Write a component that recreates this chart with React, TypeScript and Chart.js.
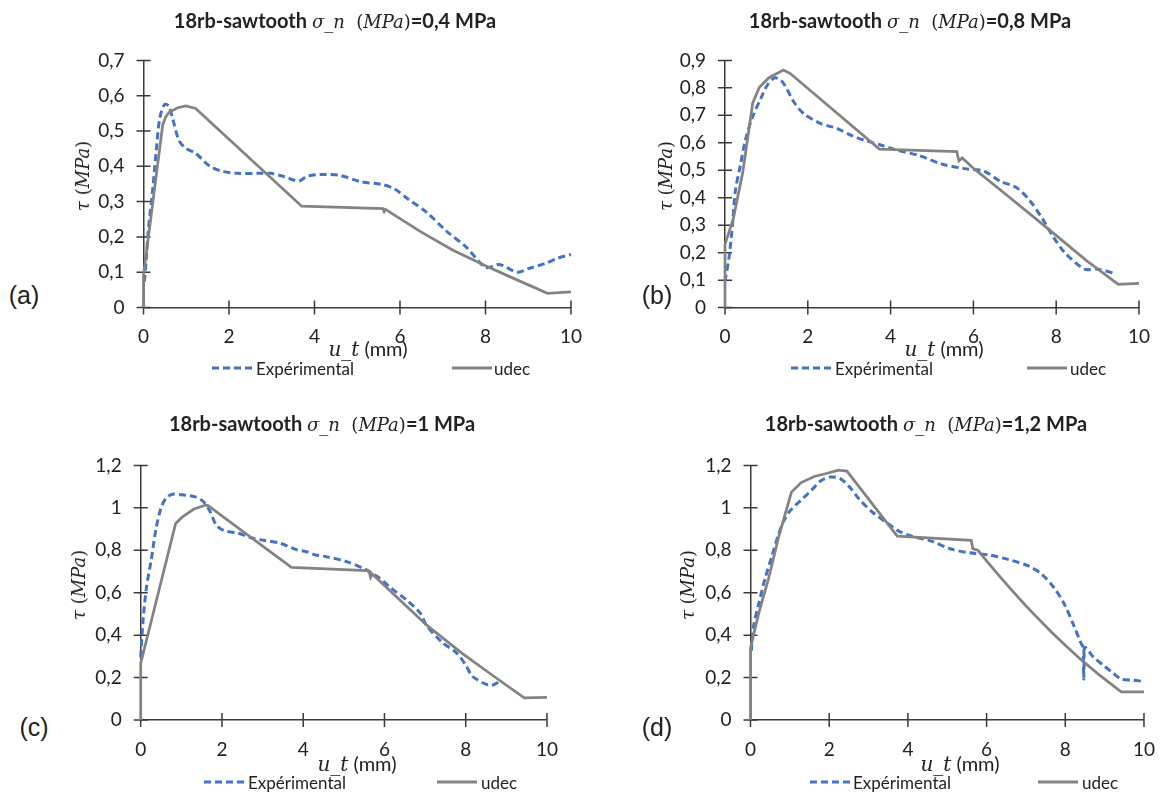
import React, { useEffect, useRef } from "react";
import { Chart, registerables } from "chart.js";
Chart.register(...registerables);

// ---------------- data ----------------
const SERIES_NAMES = ["Expérimental", "udec"];
const PANEL_LETTERS = ["(a)", "(b)", "(c)", "(d)"];
const SIGMA_VALUES = ["0,4", "0,8", "1", "1,2"];
const X_TICKS = [0, 2, 4, 6, 8, 10];
const Y_TICKS_A = [0, 0.1, 0.2, 0.3, 0.4, 0.5, 0.6, 0.7];
const Y_TICKS_B = [0, 0.1, 0.2, 0.3, 0.4, 0.5, 0.6, 0.7, 0.8, 0.9];
const Y_TICKS_CD = [0, 0.2, 0.4, 0.6, 0.8, 1, 1.2];

const A_EXP_X = [0.02, 0.06, 0.11, 0.22, 0.3, 0.38, 0.49, 0.59, 0.68, 0.83, 0.99, 1.22, 1.53, 1.83, 2.21, 2.67, 2.98, 3.28, 3.63, 3.81, 4.05, 4.27, 4.57, 5.1, 5.56, 5.87, 6.17, 6.63, 7.09, 7.55, 8.01, 8.32, 8.75, 9.0, 9.4, 9.7, 10.0];
const A_EXP_Y = [0.073, 0.13, 0.215, 0.34, 0.447, 0.536, 0.575, 0.571, 0.536, 0.473, 0.451, 0.437, 0.402, 0.386, 0.38, 0.38, 0.38, 0.371, 0.358, 0.371, 0.376, 0.377, 0.375, 0.356, 0.349, 0.336, 0.309, 0.269, 0.216, 0.171, 0.113, 0.122, 0.1, 0.11, 0.125, 0.14, 0.15];
const A_UDEC_X = [0, 0, 0.45, 0.52, 0.6, 0.8, 0.99, 1.22, 3.7, 5.6, 5.63, 5.66, 6.48, 7.24, 8.0, 8.5, 9.45, 10.0];
const A_UDEC_Y = [0, 0.091, 0.518, 0.54, 0.553, 0.566, 0.571, 0.564, 0.287, 0.28, 0.272, 0.278, 0.215, 0.162, 0.118, 0.091, 0.04, 0.044];

const B_EXP_X = [0.0, 0.1, 0.18, 0.25, 0.37, 0.49, 0.65, 0.85, 1.04, 1.21, 1.4, 1.68, 1.91, 2.3, 2.53, 2.68, 3.08, 3.39, 3.78, 4.13, 4.68, 5.23, 5.78, 6.25, 6.65, 7.04, 7.35, 7.67, 7.94, 8.22, 8.69, 9.0, 9.4];
const B_EXP_Y = [0.095, 0.186, 0.3, 0.425, 0.517, 0.608, 0.688, 0.757, 0.814, 0.837, 0.819, 0.745, 0.705, 0.671, 0.66, 0.654, 0.625, 0.608, 0.591, 0.574, 0.554, 0.523, 0.506, 0.497, 0.46, 0.437, 0.392, 0.323, 0.255, 0.198, 0.14, 0.14, 0.125];
const B_UDEC_X = [0, 0, 0.2, 0.43, 0.67, 0.83, 1.06, 1.41, 1.57, 3.73, 5.6, 5.65, 5.73, 6.02, 6.81, 7.6, 8.07, 8.74, 9.5, 10.0];
const B_UDEC_Y = [0, 0.23, 0.323, 0.494, 0.745, 0.802, 0.837, 0.865, 0.853, 0.577, 0.568, 0.534, 0.545, 0.505, 0.409, 0.312, 0.254, 0.17, 0.085, 0.088];

const C_EXP_X = [0, 0.06, 0.14, 0.26, 0.38, 0.5, 0.62, 0.78, 1.1, 1.34, 1.54, 1.7, 1.86, 2.06, 2.39, 2.71, 3.03, 3.43, 3.83, 4.08, 4.31, 4.56, 5.04, 5.52, 5.84, 6.16, 6.56, 6.88, 7.04, 7.44, 7.76, 8.0, 8.16, 8.48, 8.64, 8.8];
const C_EXP_Y = [0.296, 0.474, 0.622, 0.756, 0.904, 1.0, 1.044, 1.064, 1.059, 1.052, 1.03, 0.985, 0.919, 0.892, 0.881, 0.859, 0.847, 0.833, 0.803, 0.793, 0.778, 0.77, 0.748, 0.711, 0.674, 0.622, 0.563, 0.504, 0.444, 0.363, 0.319, 0.259, 0.207, 0.17, 0.163, 0.178];
const C_UDEC_X = [0, 0, 0.86, 1.02, 1.3, 1.58, 1.65, 3.71, 5.56, 5.62, 5.66, 5.7, 6.3, 7.04, 7.92, 8.7, 9.44, 10.0];
const C_UDEC_Y = [0, 0.267, 0.926, 0.956, 0.993, 1.012, 1.012, 0.719, 0.704, 0.7, 0.672, 0.688, 0.58, 0.447, 0.313, 0.205, 0.104, 0.107];

const D_EXP_X = [0.02, 0.08, 0.21, 0.37, 0.54, 0.71, 0.83, 1.0, 1.29, 1.54, 1.78, 2.03, 2.28, 2.53, 2.78, 3.11, 3.44, 3.78, 4.08, 4.58, 5.07, 5.57, 6.07, 6.56, 7.06, 7.39, 7.72, 7.97, 8.22, 8.38, 8.47, 8.47, 8.49, 8.72, 8.96, 9.21, 9.42, 9.71, 10.0];
const D_EXP_Y = [0.326, 0.444, 0.548, 0.667, 0.77, 0.874, 0.933, 0.985, 1.037, 1.081, 1.126, 1.145, 1.138, 1.096, 1.037, 0.978, 0.933, 0.889, 0.867, 0.844, 0.807, 0.788, 0.778, 0.756, 0.726, 0.689, 0.622, 0.548, 0.444, 0.37, 0.333, 0.193, 0.341, 0.296, 0.259, 0.222, 0.193, 0.188, 0.181];
const D_UDEC_X = [0, 0, 0.21, 0.46, 0.71, 0.87, 1.04, 1.29, 1.62, 1.95, 2.24, 2.45, 3.73, 5.61, 5.65, 5.78, 6.0, 6.31, 6.65, 6.98, 7.3, 7.64, 8.0, 8.38, 8.88, 9.42, 10.0];
const D_UDEC_Y = [0, 0.34, 0.504, 0.667, 0.859, 0.963, 1.074, 1.119, 1.148, 1.163, 1.178, 1.173, 0.867, 0.847, 0.807, 0.8, 0.75, 0.682, 0.61, 0.542, 0.48, 0.416, 0.352, 0.288, 0.21, 0.133, 0.133];

// ---------------- styles / layout ----------------
const BLUE = "#4472C4";
const GRAY = "#838383";
const AXIS = "#3a3a3a";
const TEXT = "#222222";
const SANS = "Lato, 'Open Sans', sans-serif";
const MATH = "'DejaVu Serif', 'Liberation Serif', serif";

type Rect = { left: number; top: number; right: number; bottom: number };
type PanelCfg = {
  plot: Rect;
  yMax: number;
  yTicks: number[];
  expX: number[]; expY: number[]; udecX: number[]; udecY: number[];
  title: [number, number];
  yTitle: [number, number];
  xTitle: [number, number];
  letter: [number, number];
  legendY: number;
  legendExp: [number, number];
  legendUdec: [number, number];
};

const PANELS: PanelCfg[] = [
  {
    plot: { left: 143.5, top: 45, right: 580, bottom: 307.5 }, yMax: 0.7, yTicks: Y_TICKS_A,
    expX: A_EXP_X, expY: A_EXP_Y, udecX: A_UDEC_X, udecY: A_UDEC_Y,
    title: [335, 20], yTitle: [83, 176], xTitle: [368, 348], letter: [24, 295],
    legendY: 368, legendExp: [211.5, 256], legendUdec: [452, 494],
  },
  {
    plot: { left: 725, top: 45, right: 1148, bottom: 307.6 }, yMax: 0.9, yTicks: Y_TICKS_B,
    expX: B_EXP_X, expY: B_EXP_Y, udecX: B_UDEC_X, udecY: B_UDEC_Y,
    title: [910, 20], yTitle: [665.5, 176], xTitle: [944, 348], letter: [657, 295],
    legendY: 368, legendExp: [791, 835], legendUdec: [1027, 1070],
  },
  {
    plot: { left: 140.7, top: 450, right: 556, bottom: 720 }, yMax: 1.2, yTicks: Y_TICKS_CD,
    expX: C_EXP_X, expY: C_EXP_Y, udecX: C_UDEC_X, udecY: C_UDEC_Y,
    title: [322, 423], yTitle: [79, 585], xTitle: [357, 763], letter: [34, 727],
    legendY: 781.7, legendExp: [204, 248], legendUdec: [437, 481],
  },
  {
    plot: { left: 750.5, top: 450, right: 1153, bottom: 720 }, yMax: 1.2, yTicks: Y_TICKS_CD,
    expX: D_EXP_X, expY: D_EXP_Y, udecX: D_UDEC_X, udecY: D_UDEC_Y,
    title: [926, 423], yTitle: [688, 585], xTitle: [960, 763], letter: [657, 727],
    legendY: 781.7, legendExp: [810, 853], legendUdec: [1038, 1082],
  },
];

const fmt = (v: number) => String(Math.round(v * 10) / 10).replace(".", ",");
const pts = (xs: number[], ys: number[]) => xs.map((x, i) => ({ x, y: ys[i] }));

const crossTicks = {
  id: "crossTicks",
  beforeDatasetsDraw(chart: any) {
    const { ctx, chartArea, scales } = chart;
    const xs = scales.x;
    const ys = scales.y;
    ctx.save();
    ctx.strokeStyle = AXIS;
    ctx.lineWidth = 1.5;
    ctx.beginPath();
    xs.ticks.forEach((t: any) => {
      const p = xs.getPixelForValue(t.value);
      ctx.moveTo(p, chartArea.bottom - 7);
      ctx.lineTo(p, chartArea.bottom + 7);
    });
    ys.ticks.forEach((t: any) => {
      const p = ys.getPixelForValue(t.value);
      ctx.moveTo(chartArea.left - 7, p);
      ctx.lineTo(chartArea.left + 7, p);
    });
    ctx.stroke();
    ctx.restore();
  },
};

function PanelChart({ cfg }: { cfg: PanelCfg }) {
  const ref = useRef<HTMLCanvasElement>(null);
  const { plot } = cfg;
  const cl = Math.floor(plot.left) - 70;
  const ct = Math.floor(plot.top) - 15;
  const cw = Math.ceil(plot.right) + 20 - cl;
  const ch = Math.ceil(plot.bottom) + 45 - ct;
  const yW = plot.left - cl;
  const padT = plot.top - ct;
  const padR = cl + cw - plot.right;
  const xH = ct + ch - plot.bottom;

  useEffect(() => {
    const tickFont = { family: SANS, size: 19 };
    const chart = new Chart(ref.current as HTMLCanvasElement, {
      type: "scatter",
      data: {
        datasets: [
          {
            label: SERIES_NAMES[0],
            data: pts(cfg.expX, cfg.expY),
            showLine: true,
            borderColor: BLUE,
            backgroundColor: BLUE,
            borderWidth: 3,
            borderDash: [7, 4],
            pointRadius: 0,
            tension: 0.3,
            clip: false as any,
            order: 1,
          },
          {
            label: SERIES_NAMES[1],
            data: pts(cfg.udecX, cfg.udecY),
            showLine: true,
            borderColor: GRAY,
            backgroundColor: GRAY,
            borderWidth: 2.75,
            pointRadius: 0,
            tension: 0,
            clip: false as any,
            order: 0,
          },
        ],
      },
      options: {
        animation: false,
        responsive: false,
        events: [],
        layout: { padding: { left: 0, right: padR, top: padT, bottom: 0 } },
        plugins: { legend: { display: false }, tooltip: { enabled: false }, title: { display: false } },
        scales: {
          x: {
            type: "linear",
            min: 0,
            max: 10,
            afterBuildTicks: (s: any) => { s.ticks = X_TICKS.map((v) => ({ value: v })); },
            afterFit: (s: any) => { s.height = xH; },
            grid: { display: false, drawTicks: false },
            border: { display: true, color: AXIS, width: 1.5 },
            ticks: { padding: 18, font: tickFont, color: TEXT, autoSkip: false, maxRotation: 0, callback: (v: any) => fmt(Number(v)) },
          },
          y: {
            type: "linear",
            min: 0,
            max: cfg.yMax,
            afterBuildTicks: (s: any) => { s.ticks = cfg.yTicks.map((v) => ({ value: v })); },
            afterFit: (s: any) => { s.width = yW; },
            grid: { display: false, drawTicks: false },
            border: { display: true, color: AXIS, width: 1.5 },
            ticks: { padding: 19, font: tickFont, color: TEXT, autoSkip: false, callback: (v: any) => fmt(Number(v)) },
          },
        },
      } as any,
      plugins: [crossTicks],
    });
    return () => chart.destroy();
  }, []);

  return <canvas ref={ref} width={cw} height={ch} style={{ position: "absolute", left: cl, top: ct }} />;
}

const center = (x: number, y: number): React.CSSProperties => ({
  position: "absolute",
  left: x,
  top: y,
  transform: "translate(-50%, -50%)",
  whiteSpace: "pre",
  lineHeight: 1,
  color: TEXT,
});

function Texts({ cfg, i }: { cfg: PanelCfg; i: number }) {
  const it = (size: number): React.CSSProperties => ({ fontFamily: MATH, fontStyle: "italic", fontSize: size });
  const up = (size: number): React.CSSProperties => ({ fontFamily: MATH, fontStyle: "normal", fontSize: size });
  const bold: React.CSSProperties = { fontFamily: SANS, fontWeight: 700, fontSize: 20 };
  const legendText = (x: number, y: number, s: string) => (
    <div style={{ position: "absolute", left: x, top: y, transform: "translateY(-50%)", fontFamily: SANS, fontSize: 17, color: TEXT, lineHeight: 1, whiteSpace: "pre" }}>{s}</div>
  );
  const [ex, etx] = cfg.legendExp;
  const [ux, utx] = cfg.legendUdec;
  return (
    <>
      <div style={center(cfg.title[0], cfg.title[1])}>
        <span style={bold}>18rb-sawtooth </span>
        <span style={it(18)}>σ_n</span>
        <span style={up(18)}>  (</span>
        <span style={it(18)}>MPa</span>
        <span style={up(18)}>)</span>
        <span style={bold}>{"=" + SIGMA_VALUES[i] + " MPa"}</span>
      </div>
      <div style={{ ...center(cfg.yTitle[0], cfg.yTitle[1]), transform: "translate(-50%, -50%) rotate(-90deg)" }}>
        <span style={it(18)}>τ</span>
        <span style={up(18)}> (</span>
        <span style={it(18)}>MPa</span>
        <span style={up(18)}>)</span>
      </div>
      <div style={center(cfg.xTitle[0], cfg.xTitle[1])}>
        <span style={it(20)}>u_t</span>
        <span style={{ fontFamily: SANS, fontSize: 20 }}> (mm)</span>
      </div>
      <div style={{ ...center(cfg.letter[0], cfg.letter[1]), fontFamily: "'Liberation Sans', Arial, sans-serif", fontSize: 25 }}>{PANEL_LETTERS[i]}</div>
      <svg width={40} height={6} style={{ position: "absolute", left: ex, top: cfg.legendY - 3 }}>
        <line x1={0} y1={3} x2={40} y2={3} stroke={BLUE} strokeWidth={3} strokeDasharray="7 4" />
      </svg>
      {legendText(etx, cfg.legendY, SERIES_NAMES[0])}
      <svg width={40} height={6} style={{ position: "absolute", left: ux, top: cfg.legendY - 3 }}>
        <line x1={0} y1={3} x2={40} y2={3} stroke={GRAY} strokeWidth={3} />
      </svg>
      {legendText(utx, cfg.legendY, SERIES_NAMES[1])}
    </>
  );
}

export default function App() {
  return (
    <div style={{ position: "fixed", left: 0, top: 0, width: 1173, height: 793, background: "#fff", overflow: "hidden" }}>
      {PANELS.map((p, i) => (
        <React.Fragment key={i}>
          <PanelChart cfg={p} />
          <Texts cfg={p} i={i} />
        </React.Fragment>
      ))}
    </div>
  );
}
